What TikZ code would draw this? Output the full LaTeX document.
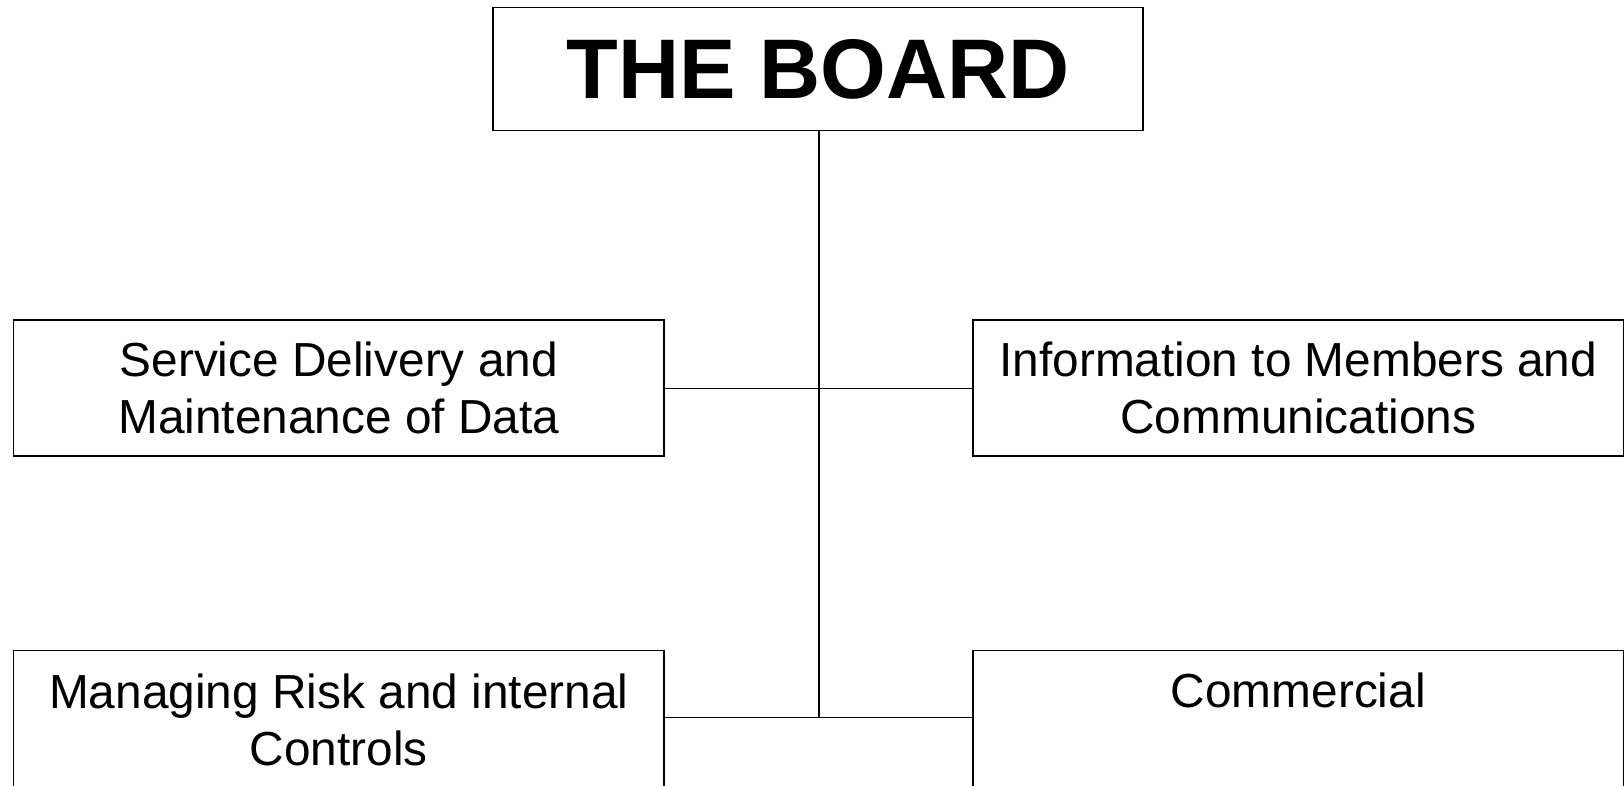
\documentclass[tikz,border=0pt]{standalone}
\usepackage{fontspec}
\setmainfont{Liberation Sans}
\begin{document}
\begin{tikzpicture}[x=1pt,y=-1pt,
  box/.style={draw, line width=1.8pt, rectangle, inner sep=0pt, align=center,
    font=\fontsize{47.8}{57}\selectfont},
  wide/.style={minimum width=650.5pt, minimum height=136pt},
  lbl/.style={inner sep=0pt, align=center, font=\fontsize{47.8}{57}\selectfont},
  conn/.style={line width=1.4pt}]
\useasboundingbox (0,0) rectangle (1624,785);
\clip (0,0) rectangle (1624,785);
\node[box, minimum width=650pt, minimum height=123pt,
  font=\fontsize{84.6}{90}\bfseries\selectfont] (board) at (818,68.9) {THE BOARD};
\node[box, wide] (sdm) at (338.8,388.2) {Service Delivery and\\Maintenance of Data};
\node[box, wide] (info) at (1298.3,388.2) {Information to Members and\\Communications};
\node[box, minimum width=650.5pt, minimum height=200pt] (risk) at (338.8,750.5) {};
\node[box, minimum width=650.5pt, minimum height=200pt] (comm) at (1298.3,750.5) {};
\node[lbl] (risktxt) at (338.8,719.5) {Managing Risk and internal\\Controls};
\node[lbl, anchor=base] (commtxt) at (1298.3,707) {Commercial};
\coordinate (j2) at (819,717.7);
\draw[conn] (board.south -| j2) -- (j2);
\draw[conn] (sdm.east) -- (info.west);
\draw[conn] (j2 -| risk.east) -- (j2 -| comm.west);
\end{tikzpicture}
\end{document}
